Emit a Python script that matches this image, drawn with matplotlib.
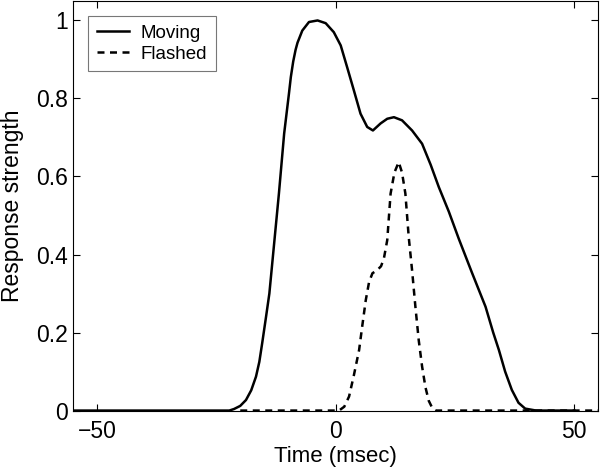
import matplotlib.pyplot as plt

plt.rcParams["font.family"] = ["Liberation Sans", "DejaVu Sans"]

# ---- Data ----------------------------------------------------------------
moving_t = [-55, -30, -22.3, -21.3, -20, -18.8, -17.7, -16.7, -16, -15.4,
            -14.6, -13.9, -12.9, -11.9, -10.8, -9.8, -9.4, -8.9, -8.4, -8.0,
            -7.0, -5.6, -3.8, -2.1, -0.4, 1.05, 2.4, 3.8, 5.2, 6.6, 7.8, 9.4,
            10.8, 12.2, 13.9, 16.0, 18.1, 19.9, 21.6, 23.7, 25.8, 28.5, 31.4,
            33, 34.2, 35.5, 36.9, 38.3, 39.7, 42, 50]
moving_r = [0, 0, 0, 0.004, 0.012, 0.027, 0.052, 0.087, 0.125, 0.173,
            0.24, 0.30, 0.428, 0.556, 0.71, 0.812, 0.855, 0.895, 0.925, 0.943,
            0.974, 0.996, 1.0, 0.993, 0.97, 0.936, 0.88, 0.821, 0.761, 0.727,
            0.718, 0.736, 0.748, 0.752, 0.744, 0.718, 0.684, 0.63, 0.573,
            0.51, 0.44, 0.355, 0.266, 0.2, 0.155, 0.1, 0.053, 0.02, 0.005,
            0, 0]

flashed_t = [-20, 0, 0.7, 1.8, 2.8, 3.8, 4.9, 5.6, 6.3, 7.0, 7.7, 8.7, 9.5,
             10.1, 10.8, 11.5, 12.3, 13.2, 13.9, 14.6, 15.3, 16.0, 16.7,
             17.4, 18.1, 18.8, 19.5, 20.3, 21, 55]
flashed_r = [0, 0, 0, 0.01, 0.036, 0.09, 0.155, 0.22, 0.283, 0.33, 0.352,
             0.36, 0.37, 0.39, 0.437, 0.556, 0.61, 0.637, 0.61, 0.556, 0.445,
             0.36, 0.266, 0.18, 0.113, 0.06, 0.025, 0.005, 0, 0]

xticks = [-50, 0, 50]
xtick_labels = ["\u221250", "0", "50"]
yticks = [0, 0.2, 0.4, 0.6, 0.8, 1]
ytick_labels = ["0", "0.2", "0.4", "0.6", "0.8", "1"]

# ---- Figure --------------------------------------------------------------
fig = plt.figure(figsize=(6, 4.73), dpi=100)
ax = fig.add_axes([0.122, 0.132, 0.875, 0.866])

ax.plot(moving_t, moving_r, color="black", linewidth=1.8, label="Moving")
ax.plot(flashed_t, flashed_r, color="black", linewidth=1.8,
        linestyle=(0, (2.8, 2.2)), label="Flashed")

ax.set_xlim(-55, 55)
ax.set_ylim(0, 1.05)
ax.set_xticks(xticks)
ax.set_xticklabels(xtick_labels)
ax.set_yticks(yticks)
ax.set_yticklabels(ytick_labels)
ax.tick_params(direction="in", top=True, right=True, length=5,
               width=0.8, labelsize=16.5)
ax.tick_params(axis="x", pad=7)
ax.tick_params(axis="y", pad=3.5)
for spine in ax.spines.values():
    spine.set_linewidth(0.8)

ax.set_xlabel("Time (msec)", fontsize=16, labelpad=2)
ax.set_ylabel("Response strength", fontsize=16.5, labelpad=9)

leg = ax.legend(loc="upper left", bbox_to_anchor=(0.0286, 0.963),
                borderaxespad=0, fontsize=13.5, fancybox=False,
                handlelength=1.75, borderpad=0.45, labelspacing=0.2,
                handletextpad=0.6)
leg.get_frame().set_edgecolor("#555555")
leg.get_frame().set_linewidth(0.8)

plt.savefig("out.png", dpi=100)
